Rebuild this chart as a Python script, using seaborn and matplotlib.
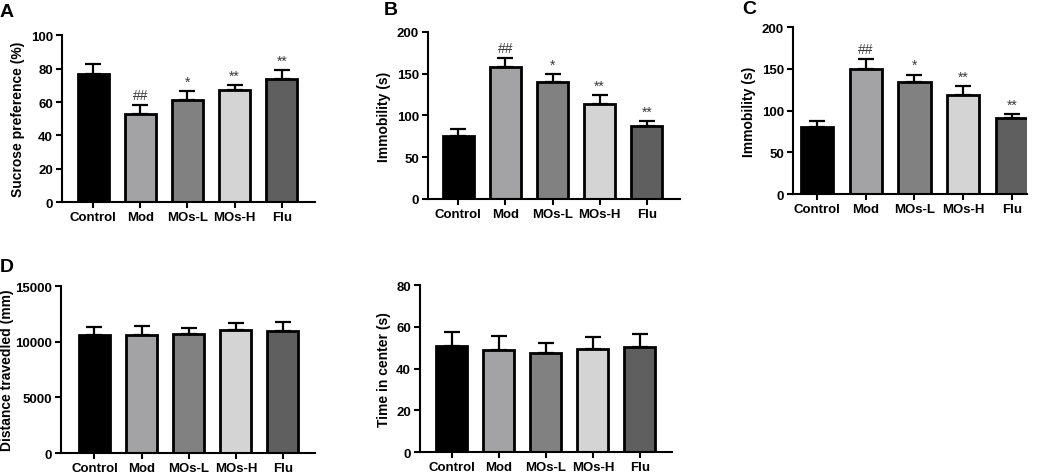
import numpy as np
import pandas as pd
import seaborn as sns
import matplotlib.pyplot as plt

groups = ["Control", "Mod", "MOs-L", "MOs-H", "Flu"]
colors = ["#000000", "#a2a2a6", "#818181", "#d4d4d4", "#5f5f5f"]

# A - sucrose preference
sucrose_mean = [77, 53, 61, 67, 73.5]
sucrose_err = [5.5, 5.5, 5.5, 3, 5.5]
sucrose_marks = ["", "##", "*", "**", "**"]

# B - immobility (test 1)
immob_b_mean = [75, 158, 140, 114, 87]
immob_b_err = [9, 11, 9, 10, 6]
immob_b_marks = ["", "##", "*", "**", "**"]

# C - immobility (test 2)
immob_c_mean = [80, 150, 134, 119, 91]
immob_c_err = [8, 12, 9, 10, 5]
immob_c_marks = ["", "##", "*", "**", "**"]

# D - open field
distance_mean = [10600, 10650, 10700, 11100, 11000]
distance_err = [700, 750, 550, 600, 750]

center_mean = [51, 49, 47.5, 49.5, 50.5]
center_err = [6.5, 6.5, 5, 5.5, 6]

plt.rcParams['font.family'] = ['Liberation Sans', 'DejaVu Sans']

fig = plt.figure(figsize=(10.45, 4.77), dpi=100)


def bar_panel(rect, mean, err, ylabel, ymax, ystep, xlim, marks=None, mark_gap=None,
              labelpad=4):
    ax = fig.add_axes(rect)
    df = pd.DataFrame({"group": groups, "value": mean})
    sns.barplot(data=df, x="group", y="value", hue="group", palette=colors,
                order=groups, width=0.66, edgecolor="black", linewidth=2,
                errorbar=None, legend=False, ax=ax)
    ax.errorbar(np.arange(len(groups)), mean, yerr=[np.zeros(len(err)), err],
                fmt="none", ecolor="black", elinewidth=1.6, capsize=5.5, capthick=1.6,
                zorder=1)
    if marks is not None:
        for i, m in enumerate(marks):
            if m:
                ax.text(i, mean[i] + err[i] + mark_gap, m, ha="center", va="bottom",
                        fontsize=10, color="#3a3a3a")
    ax.set_xlim(*xlim)
    ax.set_ylim(0, ymax)
    ax.set_yticks(np.arange(0, ymax + ystep / 2, ystep))
    ax.set_xlabel("")
    ax.set_ylabel(ylabel, fontsize=10, fontweight="bold", labelpad=labelpad)
    for lab in ax.get_xticklabels() + ax.get_yticklabels():
        lab.set_fontweight("bold")
    ax.tick_params(axis="both", labelsize=9.5, width=1.5, length=4.5, direction="out", pad=2)
    for s in ["top", "right"]:
        ax.spines[s].set_visible(False)
    for s in ["left", "bottom"]:
        ax.spines[s].set_linewidth(1.5)
    ax.patch.set_alpha(0)
    return ax


bar_panel([0.0593, 0.574, 0.242, 0.350], sucrose_mean, sucrose_err,
          "Sucrose preference (%)", 100, 20, (-0.66, 4.70), sucrose_marks, 1.5)
bar_panel([0.4096, 0.581, 0.241, 0.350], immob_b_mean, immob_b_err,
          "Immobility (s)", 200, 50, (-0.64, 4.70), immob_b_marks, 3)
bar_panel([0.7589, 0.591, 0.224, 0.350], immob_c_mean, immob_c_err,
          "Immobility (s)", 200, 50, (-0.49, 4.31), immob_c_marks, 3)
bar_panel([0.0584, 0.048, 0.243, 0.350], distance_mean, distance_err,
          "Distance travedled (mm)", 15000, 5000, (-0.71, 4.68), labelpad=0.5)
bar_panel([0.4019, 0.050, 0.241, 0.350], center_mean, center_err,
          "Time in center (s)", 80, 20, (-0.68, 4.68))

for label, x, y in [("A", 0.000, 0.992), ("B", 0.367, 0.995), ("C", 0.710, 0.997),
                    ("D", 0.000, 0.458)]:
    fig.text(x, y, label, fontsize=14, fontweight="bold", va="top", ha="left")

fig.savefig("out.png", dpi=100)
